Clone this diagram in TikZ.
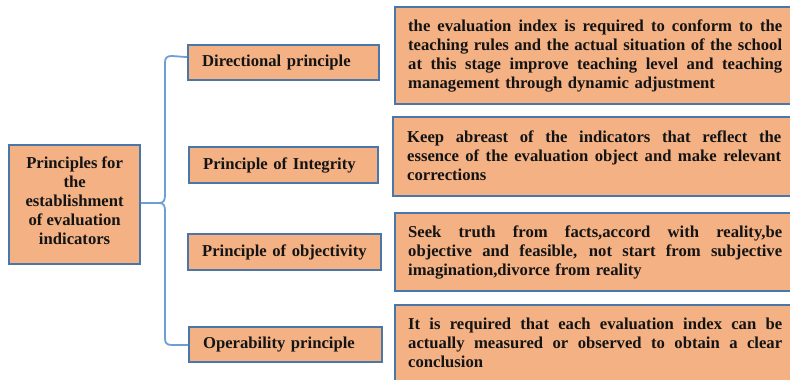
\documentclass[tikz,border=0pt]{standalone}
\usepackage{fontspec}
\setmainfont{Liberation Serif}
\definecolor{boxfill}{HTML}{F4B183}
\definecolor{boxedge}{HTML}{4A76A8}
\definecolor{linkline}{HTML}{6C9FD5}
\definecolor{ink}{HTML}{141414}
% one justified line of a description: interword spaces stretch to fill it
\newcommand{\jline}[1]{\leavevmode\hbox to 374pt{\spaceskip=\fontdimen2\font plus 1fil minus 1pt\relax\strut #1}}
\begin{document}
\begin{tikzpicture}[x=1pt,y=1pt,
  every node/.style={font=\fontsize{16.65}{19}\selectfont\bfseries, text=ink},
  card/.style={draw=boxedge, fill=boxfill, line width=2.2pt, rectangle, inner sep=0pt, anchor=north west},
  pname/.style={card, minimum height=35pt, inner xsep=14pt, align=left},
  note/.style={inner sep=0pt, anchor=north west, text width=374pt, align=left},
  link/.style={draw=linkline, line width=1.8pt}]
\clip (0,0) rectangle (790,380);

% root box
\node[card, minimum width=131pt, minimum height=119pt] (root) at (8,236) {};
\node[align=center, inner sep=0pt] (rootlbl) at ([yshift=4pt]root.center)
  {Principles for\\the\\establishment\\of evaluation\\indicators};

% principle boxes
\node[pname, text width=163pt] (dir) at (187,336) {\mbox{Directional principle}};
\node[pname, text width=161pt, minimum height=36pt] (integ) at (188,234) {\mbox{Principle of Integrity}};
\node[pname, text width=165pt, minimum height=36pt] (obj) at (187,147) {\mbox{Principle of objectivity}};
\node[pname, text width=165pt] (oper) at (188,54) {\mbox{Operability principle}};

% explanation boxes
\node[card, minimum width=440pt, minimum height=97pt] (d1) at (394,374) {};
\node[card, minimum width=440pt, minimum height=79pt] (d2) at (392,264) {};
\node[card, minimum width=440pt, minimum height=78pt] (d3) at (394,168) {};
\node[card, minimum width=440pt, minimum height=100pt] (d4) at (394,76) {};

\node[note] (t1) at (408,362.3) {%
\jline{the evaluation index is required to conform to the}\\
\jline{teaching rules and the actual situation of the school}\\
\jline{at this stage improve teaching level and teaching}\\
\strut management through dynamic adjustment};

\node[note] (t2) at (407,251.3) {%
\jline{Keep abreast of the indicators that reflect the}\\
\jline{essence of the evaluation object and make relevant}\\
\strut corrections};

\node[note] (t3) at (408,156.3) {%
\jline{Seek truth from facts,accord with reality,be}\\
\jline{objective and feasible, not start from subjective}\\
\strut imagination,divorce from reality};

\node[note] (t4) at (408,64.3) {%
\jline{It is required that each evaluation index can be}\\
\jline{actually measured or observed to obtain a clear}\\
\strut conclusion};

% brace joining the root to the principles
\coordinate (tip) at (159,177);
\draw[link, line join=round]
  ([yshift=5.5pt]dir.west) -- (172,324)
  .. controls (166.5,324) and (165,322) .. (165,317)
  -- (165,185)
  .. controls (165,180) and (164,177) .. (tip)
  .. controls (164,177) and (165,174) .. (165,169)
  -- (165,42)
  .. controls (165,37) and (166.5,35) .. (172,35)
  -- (oper.west |- 0,35);
\draw[link] (root.east |- tip) -- (tip);
\end{tikzpicture}
\end{document}
